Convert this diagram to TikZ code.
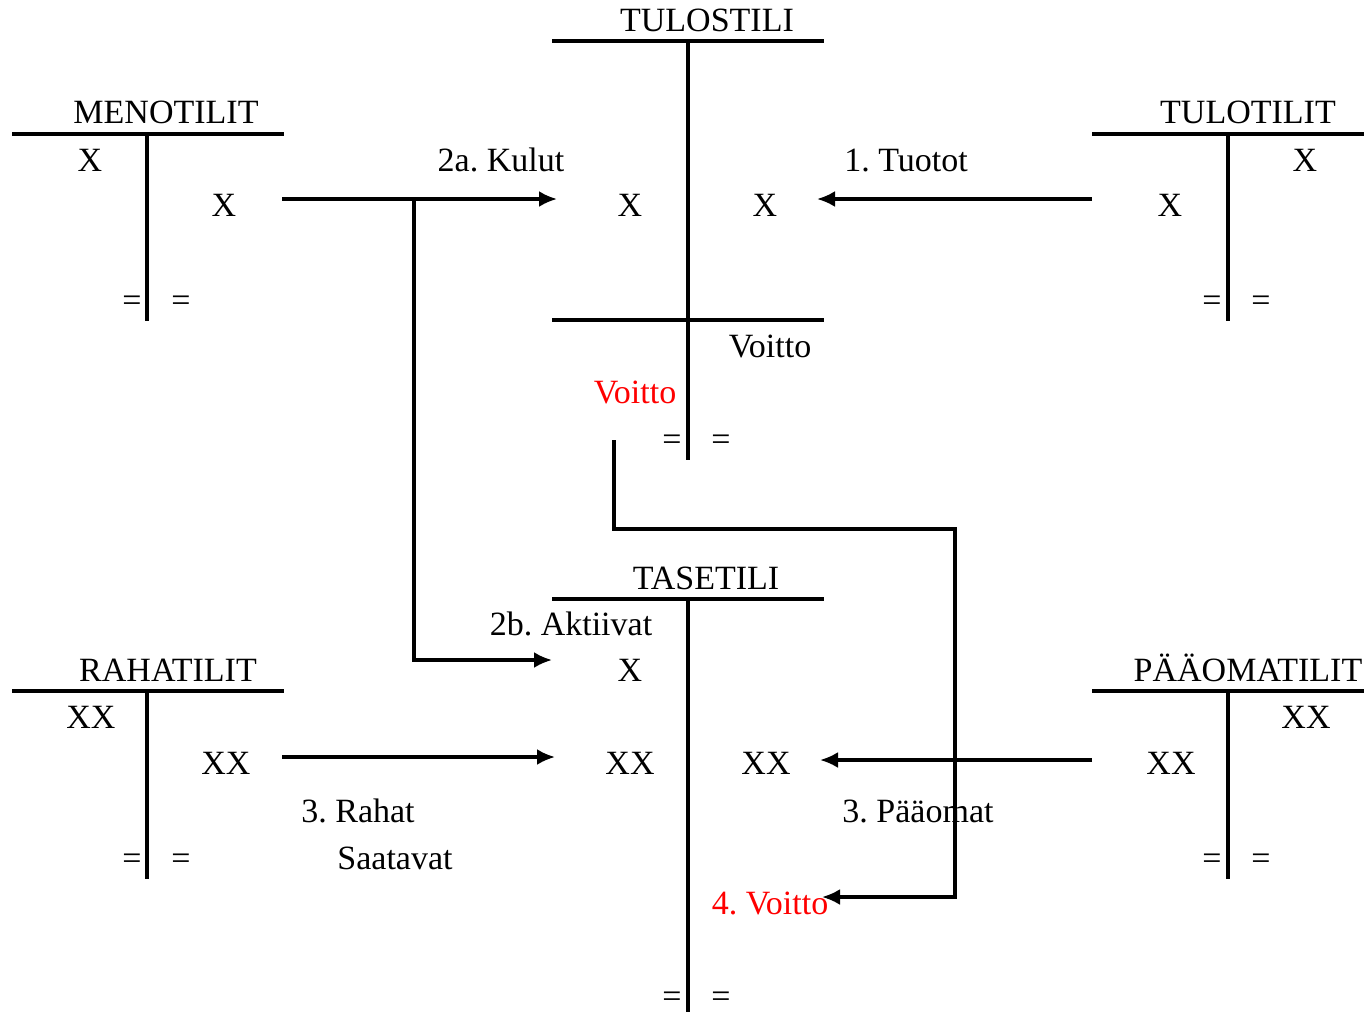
\documentclass[tikz,border=0pt]{standalone}
\usepackage{fontspec}
\setmainfont{Liberation Serif}
\usepackage{xcolor}
\usetikzlibrary{arrows.meta}
\frenchspacing

\begin{document}
\begin{tikzpicture}[x=0.5pt,y=-0.5pt]
			\tikzstyle{tline}=[line width=1.6pt]
			\tikzstyle{arr}=[line width=1.6pt,-{Latex[length=9pt,width=8pt]}]
			\tikzstyle{lbl}=[inner sep=0pt,anchor=base,font=\fontsize{17}{20}\selectfont]
			\tikzstyle{redlbl}=[lbl,text=red]
			
			\useasboundingbox (0,0) rectangle (1370,1014);
			
			% tulostili
			\draw[tline] (552,41) -- (824,41);
			\draw[tline] (688,41) -- (688,460);
			\draw[tline] (552,320) -- (824,320);
			\node[lbl] (tulos) at (707,31) {TULOSTILI};
			\node[lbl] (tulos-d) at (630,216) {X};
			\node[lbl] (tulos-c) at (765,216) {X};
			\node[lbl] (tulos-v) at (770,357) {Voitto};
			\node[redlbl] (tulos-rv) at (635,403) {Voitto};
			\node[lbl] (tulos-e1) at (672,450) {=};
			\node[lbl] (tulos-e2) at (721,450) {=};
			
			% menotilit
			\draw[tline] (12,134) -- (284,134);
			\draw[tline] (147,134) -- (147,321);
			\node[lbl] (meno) at (166,123) {MENOTILIT};
			\node[lbl] (meno-d) at (90,171) {X};
			\node[lbl] (meno-c) at (224,216) {X};
			\node[lbl] (meno-e1) at (132,311) {=};
			\node[lbl] (meno-e2) at (181,311) {=};
			
			% tulotilit
			\draw[tline] (1092,134) -- (1364,134);
			\draw[tline] (1228,134) -- (1228,321);
			\node[lbl] (tulo) at (1248,123) {TULOTILIT};
			\node[lbl] (tulo-c) at (1305,171) {X};
			\node[lbl] (tulo-d) at (1170,216) {X};
			\node[lbl] (tulo-e1) at (1212,311) {=};
			\node[lbl] (tulo-e2) at (1261,311) {=};
			
			% tasetili
			\draw[tline] (552,599) -- (824,599);
			\draw[tline] (688,599) -- (688,1012);
			\node[lbl] (tase) at (706,589) {TASETILI};
			\node[lbl] (tase-x) at (630,681) {X};
			\node[lbl] (tase-d) at (630,774) {XX};
			\node[lbl] (tase-c) at (766,774) {XX};
			\node[redlbl] (tase-v) at (770,914) {4. Voitto};
			\node[lbl] (tase-e1) at (672,1007) {=};
			\node[lbl] (tase-e2) at (721,1007) {=};
			
			% rahatilit
			\draw[tline] (12,691) -- (284,691);
			\draw[tline] (147,691) -- (147,879);
			\node[lbl] (raha) at (168,681) {RAHATILIT};
			\node[lbl] (raha-d) at (91,728) {XX};
			\node[lbl] (raha-c) at (226,774) {XX};
			\node[lbl] (raha-e1) at (132,869) {=};
			\node[lbl] (raha-e2) at (181,869) {=};
			
			% paaomatilit
			\draw[tline] (1092,691) -- (1364,691);
			\draw[tline] (1228,691) -- (1228,879);
			\node[lbl] (paaoma) at (1248,681) {PÄÄOMATILIT};
			\node[lbl] (paaoma-c) at (1306,728) {XX};
			\node[lbl] (paaoma-d) at (1171,774) {XX};
			\node[lbl] (paaoma-e1) at (1212,869) {=};
			\node[lbl] (paaoma-e2) at (1261,869) {=};
			
			% siirrot
			\coordinate (kulut-a) at (282,199);
			\coordinate (kulut-b) at (557,199);
			\coordinate (kulut-s) at (414,199);
			\coordinate (aktiiv-b) at (552,660);
			\coordinate (tuotot-a) at (1092,199);
			\coordinate (tuotot-b) at (817,199);
			\coordinate (rahat-a) at (282,757);
			\coordinate (rahat-b) at (555,757);
			\coordinate (paaomat-a) at (1092,760);
			\coordinate (paaomat-b) at (820,760);
			\coordinate (voitto-a) at (614,440);
			\coordinate (voitto-m) at (955,529);
			\coordinate (voitto-b) at (822,897);
			
			\draw[arr] (kulut-a) -- (kulut-b);
			\draw[arr] (kulut-s) |- (aktiiv-b);
			\draw[arr] (tuotot-a) -- (tuotot-b);
			\draw[arr] (rahat-a) -- (rahat-b);
			\draw[arr] (paaomat-a) -- (paaomat-b);
			\draw[arr] (voitto-a) |- (voitto-m) |- (voitto-b);
			
			\node[lbl] (kulut) at (501,171) {2a. Kulut};
			\node[lbl] (aktiiv) at (571,635) {2b. Aktiivat};
			\node[lbl] (tuotot) at (906,171) {1. Tuotot};
			\node[lbl] (rahat) at (358,822) {3. Rahat};
			\node[lbl] (saatavat) at (395,869) {Saatavat};
			\node[lbl] (paaomat) at (918,822) {3. Pääomat};
			\end{tikzpicture}
\end{document}
